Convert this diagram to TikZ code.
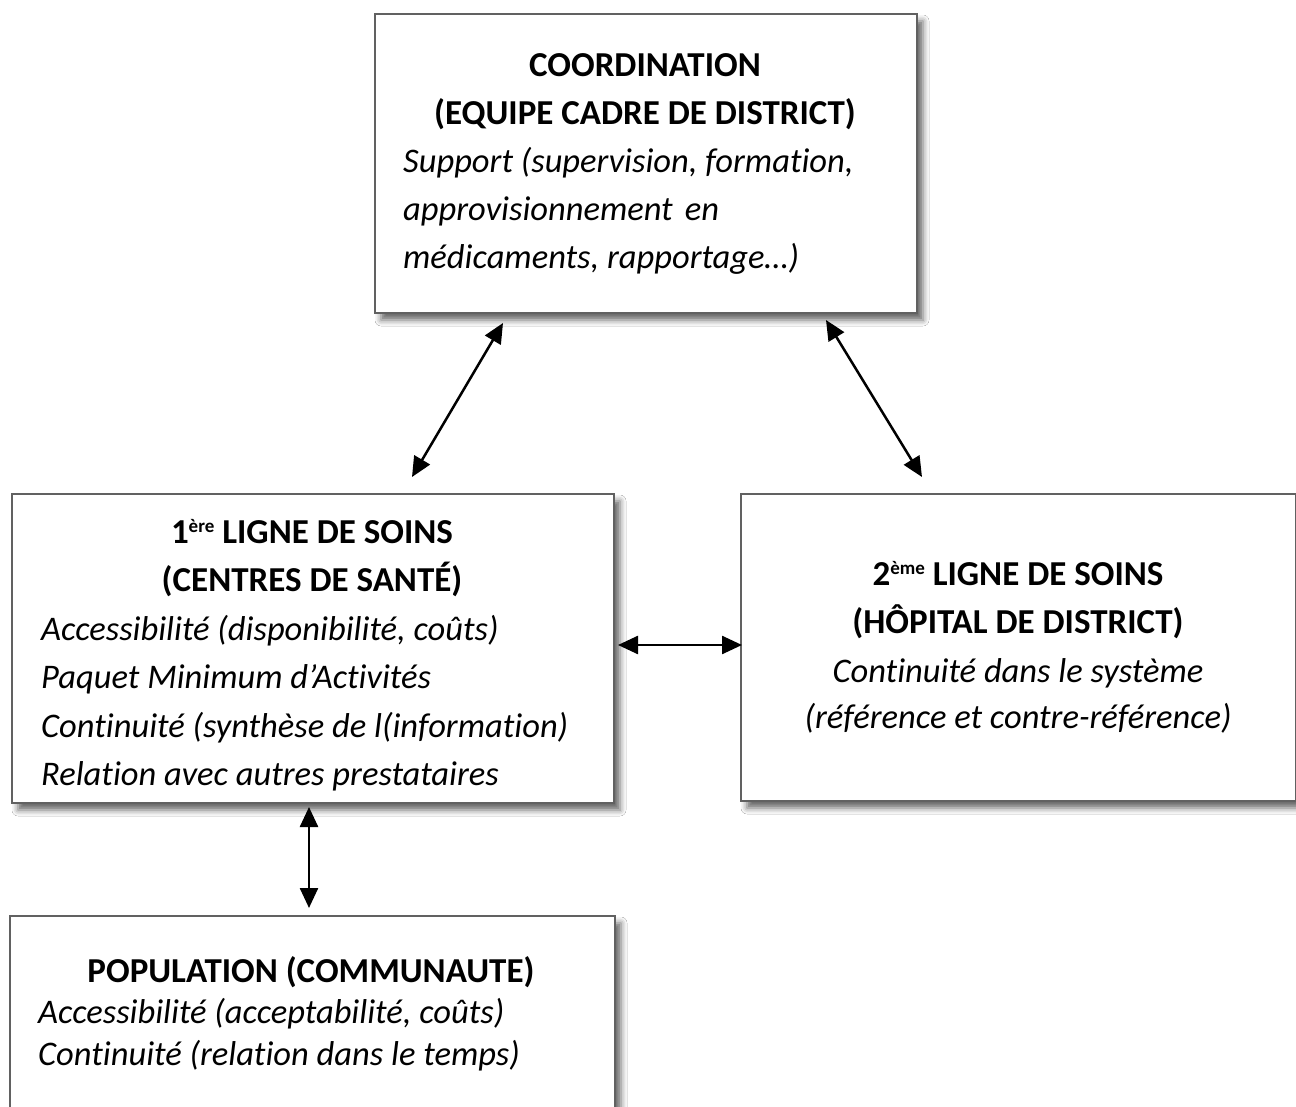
\documentclass[tikz,border=0pt]{standalone}
\usepackage{fontspec}
\setmainfont[Ligatures=NoCommon]{Carlito}
\usetikzlibrary{arrows.meta,calc,shadows.blur}
\newcommand{\supx}[1]{\raisebox{0.62ex}{\fontsize{19}{19}\selectfont #1}}
\begin{document}
\begin{tikzpicture}[x=1pt,y=-1pt,
  box/.style={draw=black!62, line width=2pt, fill=white, rectangle, inner sep=0pt, anchor=north west,
    blur shadow={shadow xshift=6pt, shadow yshift=-7pt, shadow blur radius=6pt, shadow opacity=60}},
  ttl/.style={font=\fontsize{35}{40}\selectfont\bfseries, anchor=base, inner sep=0pt},
  itl/.style={font=\fontsize{34.5}{40}\selectfont\itshape, anchor=base west, inner sep=0pt},
  itc/.style={font=\fontsize{34.5}{40}\selectfont\itshape, anchor=base, inner sep=0pt},
  biarrow/.style={{Triangle[length=20pt,width=18pt]}-{Triangle[length=20pt,width=18pt]}, line width=2.5pt}
]
\useasboundingbox[fill=white] (0,0) rectangle (1296,1107);

% boxes
\node[box, minimum width=542pt, minimum height=299pt] (coord) at (374,13) {};
\node[box, minimum width=602pt, minimum height=309pt] (first) at (11,493) {};
\node[box, minimum width=555pt, minimum height=307pt] (second) at (740,493) {};
\node[box, minimum width=605pt, minimum height=220pt] (pop) at (9,915) {};

% top box text
\node[ttl] (c1) at (645,77) {COORDINATION};
\node[ttl] (c2) at (645,125) {(EQUIPE CADRE DE DISTRICT)};
\node[itl] (c3) at (403,173) {Support (supervision, formation,};
\node[itl] (c4) at (403,221) {approvisionnement\hspace{0.35em}en};
\node[itl] (c5) at (403,269) {médicaments, rapportage…)};

% first line box text
\node[ttl] (f1) at (312,543) {1\supx{ère} LIGNE DE SOINS};
\node[ttl] (f2) at (312,591) {(CENTRES DE SANTÉ)};
\node[itl] (f3) at (41,640) {Accessibilité (disponibilité, coûts)};
\node[itl] (f4) at (41,688) {Paquet Minimum d’Activités};
\node[itl] (f5) at (41,737) {Continuité (synthèse de l(information)};
\node[itl] (f6) at (41,785) {Relation avec autres prestataires};

% second line box text
\node[ttl] (s1) at (1018,585) {2\supx{ème} LIGNE DE SOINS};
\node[ttl] (s2) at (1018,633) {(HÔPITAL DE DISTRICT)};
\node[itc] (s3) at (1018,682) {Continuité dans le système};
\node[itc] (s4) at (1018,728) {(référence et contre-référence)};

% population box text
\node[ttl] (p1) at (311,982) {POPULATION (COMMUNAUTE)};
\node[itl] (p2) at (38,1023) {Accessibilité (acceptabilité, coûts)};
\node[itl] (p3) at (38,1065) {Continuité (relation dans le temps)};

% arrow end points
\coordinate (a1t) at ($(coord.south west)+(129,9)$);
\coordinate (a1b) at ($(first.north west)+(401,-16)$);
\coordinate (a2t) at ($(coord.south west)+(452,6)$);
\coordinate (a2b) at ($(second.north west)+(182,-16)$);
\coordinate (a3l) at ($(first.north east)+(3,152)$);
\coordinate (a3r) at ($(second.north west)+(2,152)$);
\coordinate (a4t) at ($(first.south west)+(298,3)$);
\coordinate (a4b) at ($(pop.north west)+(300,-7)$);

\draw[biarrow] (a1t) -- (a1b);
\draw[biarrow] (a2t) -- (a2b);
\draw[biarrow] (a3l) -- (a3r);
\draw[biarrow] (a4t) -- (a4b);
\end{tikzpicture}
\end{document}
